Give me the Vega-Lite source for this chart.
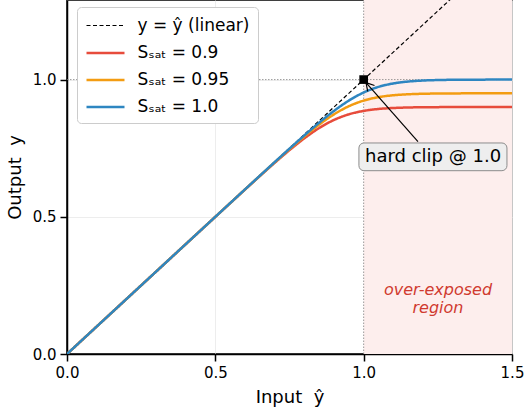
{
  "$schema": "https://vega.github.io/schema/vega-lite/v6.json",
  "width": 445,
  "height": 354,
  "autosize": {"type": "none"},
  "padding": {"left": 67, "top": 0, "right": 12, "bottom": 58},
  "config": {
    "font": "DejaVu Sans",
    "view": {"stroke": "black", "strokeWidth": 1.5},
    "axis": {
      "domainColor": "black", "domainWidth": 1.5,
      "tickColor": "black", "tickWidth": 1.5, "tickSize": 7,
      "labelFontSize": 15, "labelColor": "black", "labelPadding": 4, "labelFlush": false,
      "titleFontSize": 18, "titleFontWeight": "normal", "titleColor": "black",
      "gridColor": "#e8e8e8", "gridWidth": 0.8
    }
  },
  "datasets": {
    "region": [{"x": 1.0, "x2": 1.5, "y": 0, "y2": 1.29}],
    "guides": [
      {"x": 1.0, "x2": 1.0, "y": 0, "y2": 1.29},
      {"x": 0, "x2": 1.5, "y": 1.0, "y2": 1.0}
    ],
    "curves": [
      {"series": "y = ŷ (linear)", "x": 0, "y": 0},
      {"series": "y = ŷ (linear)", "x": 1.5, "y": 1.5},
      {"series": "Sₛₐₜ = 0.9", "x": 0, "y": 0},
      {"series": "Sₛₐₜ = 0.9", "x": 0.25, "y": 0.25},
      {"series": "Sₛₐₜ = 0.9", "x": 0.5, "y": 0.4998},
      {"series": "Sₛₐₜ = 0.9", "x": 0.55, "y": 0.5496},
      {"series": "Sₛₐₜ = 0.9", "x": 0.6, "y": 0.5992},
      {"series": "Sₛₐₜ = 0.9", "x": 0.625, "y": 0.6238},
      {"series": "Sₛₐₜ = 0.9", "x": 0.65, "y": 0.6483},
      {"series": "Sₛₐₜ = 0.9", "x": 0.675, "y": 0.6726},
      {"series": "Sₛₐₜ = 0.9", "x": 0.7, "y": 0.6965},
      {"series": "Sₛₐₜ = 0.9", "x": 0.725, "y": 0.72},
      {"series": "Sₛₐₜ = 0.9", "x": 0.75, "y": 0.7429},
      {"series": "Sₛₐₜ = 0.9", "x": 0.775, "y": 0.765},
      {"series": "Sₛₐₜ = 0.9", "x": 0.8, "y": 0.7859},
      {"series": "Sₛₐₜ = 0.9", "x": 0.825, "y": 0.8055},
      {"series": "Sₛₐₜ = 0.9", "x": 0.85, "y": 0.8234},
      {"series": "Sₛₐₜ = 0.9", "x": 0.875, "y": 0.8392},
      {"series": "Sₛₐₜ = 0.9", "x": 0.9, "y": 0.8529},
      {"series": "Sₛₐₜ = 0.9", "x": 0.925, "y": 0.8642},
      {"series": "Sₛₐₜ = 0.9", "x": 0.95, "y": 0.8734},
      {"series": "Sₛₐₜ = 0.9", "x": 0.975, "y": 0.8805},
      {"series": "Sₛₐₜ = 0.9", "x": 1.0, "y": 0.8859},
      {"series": "Sₛₐₜ = 0.9", "x": 1.025, "y": 0.89},
      {"series": "Sₛₐₜ = 0.9", "x": 1.05, "y": 0.8929},
      {"series": "Sₛₐₜ = 0.9", "x": 1.075, "y": 0.895},
      {"series": "Sₛₐₜ = 0.9", "x": 1.1, "y": 0.8965},
      {"series": "Sₛₐₜ = 0.9", "x": 1.15, "y": 0.8983},
      {"series": "Sₛₐₜ = 0.9", "x": 1.2, "y": 0.8992},
      {"series": "Sₛₐₜ = 0.9", "x": 1.25, "y": 0.8996},
      {"series": "Sₛₐₜ = 0.9", "x": 1.3, "y": 0.8998},
      {"series": "Sₛₐₜ = 0.9", "x": 1.5, "y": 0.9},
      {"series": "Sₛₐₜ = 0.95", "x": 0, "y": 0},
      {"series": "Sₛₐₜ = 0.95", "x": 0.25, "y": 0.25},
      {"series": "Sₛₐₜ = 0.95", "x": 0.5, "y": 0.5},
      {"series": "Sₛₐₜ = 0.95", "x": 0.55, "y": 0.5498},
      {"series": "Sₛₐₜ = 0.95", "x": 0.6, "y": 0.5996},
      {"series": "Sₛₐₜ = 0.95", "x": 0.65, "y": 0.6492},
      {"series": "Sₛₐₜ = 0.95", "x": 0.675, "y": 0.6738},
      {"series": "Sₛₐₜ = 0.95", "x": 0.7, "y": 0.6983},
      {"series": "Sₛₐₜ = 0.95", "x": 0.725, "y": 0.7226},
      {"series": "Sₛₐₜ = 0.95", "x": 0.75, "y": 0.7465},
      {"series": "Sₛₐₜ = 0.95", "x": 0.775, "y": 0.77},
      {"series": "Sₛₐₜ = 0.95", "x": 0.8, "y": 0.7929},
      {"series": "Sₛₐₜ = 0.95", "x": 0.825, "y": 0.815},
      {"series": "Sₛₐₜ = 0.95", "x": 0.85, "y": 0.8359},
      {"series": "Sₛₐₜ = 0.95", "x": 0.875, "y": 0.8555},
      {"series": "Sₛₐₜ = 0.95", "x": 0.9, "y": 0.8734},
      {"series": "Sₛₐₜ = 0.95", "x": 0.925, "y": 0.8892},
      {"series": "Sₛₐₜ = 0.95", "x": 0.95, "y": 0.9029},
      {"series": "Sₛₐₜ = 0.95", "x": 0.975, "y": 0.9142},
      {"series": "Sₛₐₜ = 0.95", "x": 1.0, "y": 0.9234},
      {"series": "Sₛₐₜ = 0.95", "x": 1.025, "y": 0.9305},
      {"series": "Sₛₐₜ = 0.95", "x": 1.05, "y": 0.9359},
      {"series": "Sₛₐₜ = 0.95", "x": 1.075, "y": 0.94},
      {"series": "Sₛₐₜ = 0.95", "x": 1.1, "y": 0.9429},
      {"series": "Sₛₐₜ = 0.95", "x": 1.125, "y": 0.945},
      {"series": "Sₛₐₜ = 0.95", "x": 1.15, "y": 0.9465},
      {"series": "Sₛₐₜ = 0.95", "x": 1.2, "y": 0.9483},
      {"series": "Sₛₐₜ = 0.95", "x": 1.25, "y": 0.9492},
      {"series": "Sₛₐₜ = 0.95", "x": 1.3, "y": 0.9496},
      {"series": "Sₛₐₜ = 0.95", "x": 1.4, "y": 0.9499},
      {"series": "Sₛₐₜ = 0.95", "x": 1.5, "y": 0.95},
      {"series": "Sₛₐₜ = 1.0", "x": 0, "y": 0},
      {"series": "Sₛₐₜ = 1.0", "x": 0.25, "y": 0.25},
      {"series": "Sₛₐₜ = 1.0", "x": 0.5, "y": 0.5},
      {"series": "Sₛₐₜ = 1.0", "x": 0.6, "y": 0.5998},
      {"series": "Sₛₐₜ = 1.0", "x": 0.65, "y": 0.6496},
      {"series": "Sₛₐₜ = 1.0", "x": 0.7, "y": 0.6992},
      {"series": "Sₛₐₜ = 1.0", "x": 0.725, "y": 0.7238},
      {"series": "Sₛₐₜ = 1.0", "x": 0.75, "y": 0.7483},
      {"series": "Sₛₐₜ = 1.0", "x": 0.775, "y": 0.7726},
      {"series": "Sₛₐₜ = 1.0", "x": 0.8, "y": 0.7965},
      {"series": "Sₛₐₜ = 1.0", "x": 0.825, "y": 0.82},
      {"series": "Sₛₐₜ = 1.0", "x": 0.85, "y": 0.8429},
      {"series": "Sₛₐₜ = 1.0", "x": 0.875, "y": 0.865},
      {"series": "Sₛₐₜ = 1.0", "x": 0.9, "y": 0.8859},
      {"series": "Sₛₐₜ = 1.0", "x": 0.925, "y": 0.9055},
      {"series": "Sₛₐₜ = 1.0", "x": 0.95, "y": 0.9234},
      {"series": "Sₛₐₜ = 1.0", "x": 0.975, "y": 0.9392},
      {"series": "Sₛₐₜ = 1.0", "x": 1.0, "y": 0.9529},
      {"series": "Sₛₐₜ = 1.0", "x": 1.025, "y": 0.9642},
      {"series": "Sₛₐₜ = 1.0", "x": 1.05, "y": 0.9734},
      {"series": "Sₛₐₜ = 1.0", "x": 1.075, "y": 0.9805},
      {"series": "Sₛₐₜ = 1.0", "x": 1.1, "y": 0.9859},
      {"series": "Sₛₐₜ = 1.0", "x": 1.125, "y": 0.99},
      {"series": "Sₛₐₜ = 1.0", "x": 1.15, "y": 0.9929},
      {"series": "Sₛₐₜ = 1.0", "x": 1.175, "y": 0.995},
      {"series": "Sₛₐₜ = 1.0", "x": 1.2, "y": 0.9965},
      {"series": "Sₛₐₜ = 1.0", "x": 1.25, "y": 0.9983},
      {"series": "Sₛₐₜ = 1.0", "x": 1.3, "y": 0.9992},
      {"series": "Sₛₐₜ = 1.0", "x": 1.4, "y": 0.9998},
      {"series": "Sₛₐₜ = 1.0", "x": 1.5, "y": 1.0}
    ],
    "arrow": [
      {"x": 1.183, "y": 0.774, "x2": 1.0079, "y2": 0.989},
      {"x": 1.0079, "y": 0.989, "x2": 1.0136, "y2": 0.957},
      {"x": 1.0079, "y": 0.989, "x2": 1.0365, "y2": 0.9785}
    ],
    "clip": [{"x": 1.0, "y": 1.0}],
    "box": [{"x": 0.984, "x2": 1.483, "y": 0.668, "y2": 0.769, "label": "hard clip @ 1.0", "tx": 1.234, "ty": 0.719}],
    "note": [{"x": 1.2505, "y": 0.233, "label": ["over-exposed", "region"]}]
  },
  "encoding": {
    "x": {
      "field": "x", "type": "quantitative",
      "scale": {"domain": [0, 1.5], "nice": false, "zero": false},
      "axis": {"values": [0, 0.5, 1.0, 1.5], "format": ".1f", "title": "Input\u00a0\u00a0ŷ", "titlePadding": 8}
    },
    "y": {
      "field": "y", "type": "quantitative",
      "scale": {"domain": [0, 1.29], "nice": false, "zero": false},
      "axis": {"values": [0, 0.5, 1.0], "format": ".1f", "title": "Output\u00a0\u00a0y", "titlePadding": 8}
    }
  },
  "layer": [
    {
      "data": {"name": "region"},
      "mark": {"type": "rect", "fill": "#fdeeed"},
      "encoding": {"x2": {"field": "x2"}, "y2": {"field": "y2"}}
    },
    {
      "data": {"name": "guides"},
      "mark": {"type": "rule", "stroke": "#808080", "strokeWidth": 0.8, "strokeDash": [1.5, 1.5]},
      "encoding": {"x2": {"field": "x2"}, "y2": {"field": "y2"}}
    },
    {
      "data": {"name": "curves"},
      "mark": {"type": "line", "clip": true, "interpolate": "monotone"},
      "encoding": {
        "color": {
          "field": "series", "type": "nominal",
          "scale": {
            "domain": ["y = ŷ (linear)", "Sₛₐₜ = 0.9", "Sₛₐₜ = 0.95", "Sₛₐₜ = 1.0"],
            "range": ["#000000", "#e74c3c", "#f39c12", "#2e86c1"]
          },
          "legend": {
            "title": null, "orient": "none", "legendX": 10, "legendY": 7,
            "padding": 8, "fillColor": "white", "strokeColor": "#cccccc", "cornerRadius": 4,
            "labelFontSize": 17, "labelColor": "black",
            "symbolType": "M-2,0H2", "symbolSize": 361, "symbolOffset": 9.5,
            "rowPadding": 8, "labelOffset": 21,
            "encode": {
              "symbols": {
                "update": {
                  "strokeDash": {"signal": "datum.index === 0 ? [4, 2.5] : [1, 0]"},
                  "strokeWidth": {"signal": "datum.index === 0 ? 1.2 : 2.4"}
                }
              }
            }
          }
        },
        "strokeDash": {
          "field": "series", "type": "nominal", "legend": null,
          "scale": {
            "domain": ["y = ŷ (linear)", "Sₛₐₜ = 0.9", "Sₛₐₜ = 0.95", "Sₛₐₜ = 1.0"],
            "range": [[4, 2.5], [1, 0], [1, 0], [1, 0]]
          }
        },
        "strokeWidth": {
          "field": "series", "type": "ordinal", "legend": null,
          "scale": {
            "type": "ordinal",
            "domain": ["y = ŷ (linear)", "Sₛₐₜ = 0.9", "Sₛₐₜ = 0.95", "Sₛₐₜ = 1.0"],
            "range": [1.2, 2.5, 2.5, 2.5]
          }
        }
      }
    },
    {
      "data": {"name": "arrow"},
      "mark": {"type": "rule", "stroke": "black", "strokeWidth": 1.2},
      "encoding": {"x2": {"field": "x2"}, "y2": {"field": "y2"}}
    },
    {
      "data": {"name": "clip"},
      "mark": {"type": "point", "shape": "square", "filled": true, "color": "black", "size": 75, "opacity": 1}
    },
    {
      "data": {"name": "box"},
      "mark": {"type": "rect", "fill": "#eeeeee", "stroke": "#8c8c8c", "strokeWidth": 1, "cornerRadius": 5},
      "encoding": {"x2": {"field": "x2"}, "y2": {"field": "y2"}}
    },
    {
      "data": {"name": "box"},
      "mark": {"type": "text", "fontSize": 18, "color": "black", "align": "center", "baseline": "middle"},
      "encoding": {
        "x": {"field": "tx", "type": "quantitative"},
        "y": {"field": "ty", "type": "quantitative"},
        "text": {"field": "label"}
      }
    },
    {
      "data": {"name": "note"},
      "mark": {"type": "text", "fontSize": 16, "fontStyle": "italic", "color": "#d03a2f", "align": "center", "baseline": "middle", "lineHeight": 18},
      "encoding": {"text": {"field": "label"}}
    }
  ]
}
